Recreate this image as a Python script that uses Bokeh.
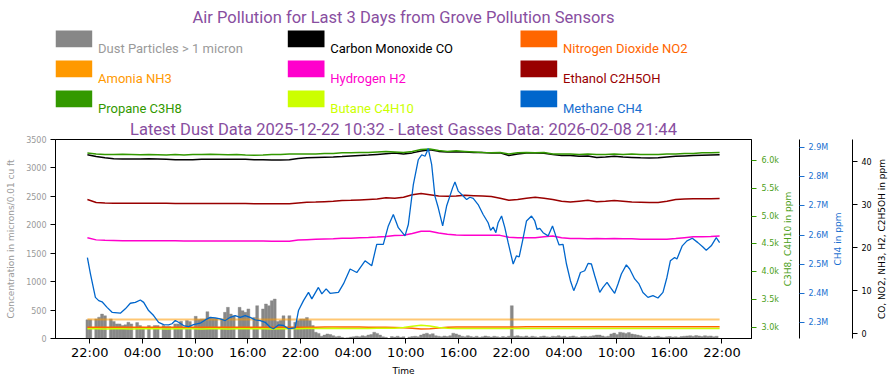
import math
import pandas as pd
from bokeh.plotting import figure
from bokeh.models import (Range1d, LinearAxis, FixedTicker, CustomJSTickFormatter,
                          DatetimeTickFormatter)
from bokeh.layouts import column, row
from bokeh.embed import file_html
from bokeh.resources import INLINE
from bokeh.core.properties import value

# ---------------- data ----------------
title_text = "Air Pollution for Last 3 Days from Grove Pollution Sensors"
subtitle_text = "Latest Dust Data 2025-12-22 10:32 - Latest Gasses Data: 2026-02-08 21:44"

legend_labels = ["Dust Particles > 1 micron", "Carbon Monoxide CO", "Nitrogen Dioxide NO2",
                 "Amonia NH3", "Hydrogen H2", "Ethanol C2H5OH",
                 "Propane C3H8", "Butane C4H10", "Methane CH4"]
legend_colors = ["#878787", "#000000", "#FF6600", "#FF9900", "#FF00CC",
                 "#990000", "#339900", "#CCFF00", "#0066CC"]
legend_text_colors = ["#9A9A9A", "#000000", "#FF6600", "#FF9900", "#FF00CC",
                      "#990000", "#339900", "#CCFF00", "#1A6FD0"]

axis_titles = {"dust": "Concentration in microns/0.01 cu ft",
               "hc": "C3H8, C4H10 in ppm",
               "ch4": "CH4 in ppm",
               "gas": "CO, NO2, NH3, H2, C2H5OH in ppm",
               "time": "Time"}

series_start = "2026-02-05 21:44"
x_tick_start = "2026-02-05 22:00"
x_tick_count = 13
x_view = ("2026-02-05 18:06", "2026-02-09 01:22")

dust_ticks = [0, 500, 1000, 1500, 2000, 2500, 3000, 3500]
hc_ticks = [3000, 3500, 4000, 4500, 5000, 5500, 6000]
ch4_ticks = [2300000, 2400000, 2500000, 2600000, 2700000, 2800000, 2900000]
gas_ticks = [0, 10, 20, 30, 40]

# dust, one value every 20 minutes (microns / 0.01 cu ft)
dust = [330, 330, 0, 345, 375, 430, 400, 0, 345, 300, 257, 257,
        227, 240, 285, 257, 0, 280, 227, 198, 0, 227, 0, 227,
        227, 0, 227, 210, 210, 0, 257, 257, 303, 0, 315, 300,
        0, 390, 335, 344, 344, 472, 370, 355, 355, 0, 344, 460,
        548, 430, 400, 0, 548, 490, 460, 520, 0, 370, 577, 0,
        520, 607, 577, 665, 694, 300, 315, 400, 0, 402, 0, 285,
        315, 344, 344, 370, 315, 227, 110, 90, 40, 60, 80, 70,
        50, 30, 40, 20, 10, 15, 25, 30, 40, 30, 50, 40,
        60, 70, 110, 90, 60, 30, 20, 0, 35, 25, 40, 20,
        30, 0, 25, 35, 40, 30, 60, 80, 93, 70, 85, 50,
        40, 30, 45, 35, 50, 93, 80, 60, 40, 30, 50, 35,
        25, 40, 20, 30, 45, 35, 25, 40, 30, 20, 35, 25,
        40, 577, 40, 50, 35, 30, 45, 25, 40, 30, 20, 35,
        45, 30, 25, 40, 35, 50, 30, 40, 25, 35, 45, 30,
        20, 35, 40, 30, 40, 50, 60, 60, 45, 30, 40, 80,
        95, 70, 110, 100, 90, 105, 80, 70, 60, 50, 30, 25,
        35, 20, 30, 40, 25, 20, 30, 35, 25, 30, 20, 35,
        40, 45, 50, 40, 52, 45, 35, 50, 40, 45, 30, 40]

# hourly gas readings (ppm)
co = [41.6, 41.2, 40.9, 40.7, 40.65, 40.65, 40.65, 40.7, 40.65, 40.55,
      40.45, 40.45, 40.45, 40.55, 40.55, 40.55, 40.55, 40.55, 40.55, 40.45,
      40.45, 40.4, 40.4, 40.45, 40.75, 40.9, 41.0, 41.05, 41.1, 41.2,
      41.35, 41.45, 41.55, 41.7, 41.85, 42.0, 41.8, 42.05, 42.5, 42.8,
      42.4, 42.25, 42.3, 42.25, 42.15, 42.15, 42.05, 42.05, 41.45, 41.8,
      42.05, 42.0, 41.95, 41.65, 41.45, 41.45, 41.25, 41.35, 41.0, 41.1,
      41.25, 41.1, 41.0, 40.9, 40.85, 40.9, 41.1, 41.25, 41.35, 41.45,
      41.5, 41.55, 41.6]
no2 = [1.45, 1.45, 1.44, 1.45, 1.45, 1.46, 1.45, 1.45, 1.44, 1.45,
       1.45, 1.45, 1.46, 1.45, 1.45, 1.44, 1.45, 1.45, 1.45, 1.45,
       1.46, 1.45, 1.45, 1.45, 1.47, 1.48, 1.48, 1.49, 1.5, 1.5,
       1.5, 1.5, 1.48, 1.46, 1.45, 1.42, 1.35, 1.2, 1.05, 1.1,
       1.3, 1.45, 1.5, 1.52, 1.52, 1.53, 1.53, 1.52, 1.5, 1.52,
       1.55, 1.55, 1.56, 1.56, 1.56, 1.57, 1.57, 1.56, 1.56, 1.56,
       1.57, 1.57, 1.56, 1.56, 1.55, 1.55, 1.56, 1.56, 1.57, 1.57,
       1.56, 1.56, 1.56]
nh3 = [3.3, 3.26, 3.25, 3.25, 3.24, 3.25, 3.25, 3.26, 3.25, 3.25,
       3.24, 3.25, 3.25, 3.25, 3.26, 3.25, 3.25, 3.24, 3.25, 3.25,
       3.25, 3.25, 3.26, 3.25, 3.25, 3.25, 3.24, 3.25, 3.25, 3.25,
       3.26, 3.25, 3.25, 3.25, 3.24, 3.25, 3.25, 3.26, 3.27, 3.26,
       3.25, 3.25, 3.25, 3.24, 3.25, 3.25, 3.25, 3.26, 3.25, 3.25,
       3.25, 3.24, 3.25, 3.25, 3.25, 3.25, 3.26, 3.25, 3.25, 3.24,
       3.25, 3.25, 3.25, 3.25, 3.26, 3.25, 3.25, 3.25, 3.24, 3.25,
       3.25, 3.25, 3.25]
h2 = [22.3, 21.8, 21.7, 21.65, 21.6, 21.6, 21.62, 21.62, 21.6, 21.6,
      21.58, 21.55, 21.55, 21.55, 21.55, 21.55, 21.55, 21.55, 21.55, 21.52,
      21.52, 21.5, 21.5, 21.5, 21.75, 21.85, 21.95, 22.0, 22.05, 22.15,
      22.2, 22.3, 22.35, 22.45, 22.6, 22.8, 22.9, 23.3, 23.8, 23.8,
      23.4, 23.1, 22.95, 22.9, 22.9, 22.85, 22.85, 22.85, 22.4, 22.3,
      22.3, 22.3, 22.5, 22.7, 22.3, 22.1, 22.1, 22.05, 22.1, 22.05,
      22.1, 22.05, 22.05, 21.95, 21.95, 21.92, 21.95, 22.1, 22.3, 22.5,
      22.55, 22.6, 22.7]
c2h5oh = [31.2, 30.5, 30.4, 30.35, 30.3, 30.3, 30.35, 30.35, 30.3, 30.3,
          30.25, 30.25, 30.25, 30.25, 30.28, 30.28, 30.28, 30.25, 30.25, 30.22,
          30.2, 30.2, 30.2, 30.2, 30.4, 30.55, 30.6, 30.7, 30.8, 30.95,
          31.0, 31.1, 31.2, 31.3, 31.6, 31.5, 31.7, 32.3, 32.6, 32.3,
          32.0, 31.95, 32.0, 32.2, 32.1, 32.0, 31.9, 31.5, 31.0, 31.2,
          31.5, 31.7, 31.5, 31.2, 30.8, 30.6, 30.8, 31.0, 30.7, 30.8,
          30.95, 30.8, 30.6, 30.55, 30.5, 30.5, 30.8, 31.2, 31.3, 31.35,
          31.4, 31.4, 31.45]
c3h8 = [6125, 6110, 6100, 6100, 6105, 6100, 6095, 6100, 6095, 6090,
        6100, 6090, 6100, 6100, 6105, 6100, 6095, 6100, 6090, 6085,
        6090, 6100, 6100, 6110, 6110, 6110, 6110, 6120, 6120, 6130,
        6130, 6135, 6135, 6145, 6155, 6145, 6135, 6155, 6190, 6200,
        6170, 6155, 6165, 6155, 6145, 6135, 6130, 6135, 6110, 6130,
        6135, 6130, 6135, 6110, 6110, 6110, 6100, 6110, 6100, 6100,
        6110, 6100, 6110, 6100, 6100, 6100, 6110, 6110, 6120, 6120,
        6130, 6130, 6135]
c4h10 = [2982, 2983, 2981, 2982, 2982, 2980, 2982, 2983, 2982, 2981,
         2982, 2982, 2983, 2981, 2982, 2982, 2980, 2982, 2982, 2983,
         2982, 2981, 2982, 2982, 2984, 2988, 2990, 2990, 2991, 2990,
         2990, 2989, 2990, 2991, 2992, 2995, 3005, 3030, 3045, 3035,
         3005, 2995, 2990, 2988, 2988, 2989, 2988, 2987, 2988, 2988,
         2989, 2988, 2988, 2987, 2988, 2988, 2989, 2988, 2988, 2987,
         2988, 2988, 2988, 2989, 2988, 2987, 2988, 2988, 2989, 2988,
         2988, 2988, 2988]

# methane, irregular samples: hours after series start, ppm
ch4_hours = [0.00, 0.34, 0.91, 1.29, 1.67, 2.24, 2.81, 3.75, 4.32, 4.89,
             5.46, 6.03, 6.41, 6.97, 7.54, 8.11, 8.68, 9.25, 9.63, 10.01,
             10.38, 10.95, 11.52, 12.09, 12.85, 13.42, 13.99, 14.56, 15.13, 15.70,
             16.27, 16.83, 17.40, 17.97, 18.54, 19.11, 19.68, 20.25, 20.82, 21.19,
             21.76, 22.33, 22.90, 23.66, 24.04, 24.61, 25.18, 25.56, 26.31, 26.70,
             27.19, 27.64, 28.59, 29.16, 29.92, 30.68, 31.62, 32.38, 32.95, 33.70,
             34.27, 34.84, 35.41, 36.17, 36.55, 37.12, 37.68, 38.07, 38.45, 38.82,
             39.21, 39.58, 39.96, 40.46, 40.91, 41.29, 41.59, 41.86, 42.23, 42.80,
             43.19, 43.56, 43.94, 44.50, 45.07, 45.64, 45.92, 46.21, 46.52, 46.78,
             47.17, 47.54, 47.92, 48.49, 48.87, 49.17, 49.56, 50.01, 50.58, 50.95,
             51.22, 51.52, 51.90, 52.47, 52.97, 53.35, 53.72, 54.17, 54.56, 55.01,
             55.39, 55.77, 56.15, 56.64, 57.02, 57.40, 57.78, 58.35, 58.72, 59.18,
             59.56, 60.05, 60.43, 60.81, 61.38, 61.76, 62.33, 62.82, 63.27, 63.84,
             64.41, 64.98, 65.55, 66.00, 66.39, 66.88, 67.14, 67.75, 68.28, 68.89,
             69.53, 70.10, 70.48, 71.05, 71.62, 72.00]
ch4_ppm = [2523000, 2468000, 2387000, 2376000, 2372000, 2353000, 2336000, 2333000, 2348000, 2367000,
           2370000, 2378000, 2370000, 2342000, 2325000, 2302000, 2294000, 2293000, 2297000, 2308000,
           2302000, 2291000, 2287000, 2294000, 2299000, 2310000, 2319000, 2317000, 2314000, 2308000,
           2319000, 2325000, 2319000, 2325000, 2319000, 2310000, 2308000, 2302000, 2285000, 2280000,
           2293000, 2291000, 2280000, 2283000, 2342000, 2376000, 2404000, 2382000, 2421000, 2399000,
           2416000, 2401000, 2404000, 2433000, 2484000, 2472000, 2512000, 2495000, 2568000, 2568000,
           2631000, 2670000, 2625000, 2597000, 2636000, 2772000, 2857000, 2874000, 2869000, 2895000,
           2840000, 2733000, 2693000, 2631000, 2699000, 2733000, 2761000, 2781000, 2750000, 2733000,
           2721000, 2729000, 2725000, 2704000, 2670000, 2642000, 2616000, 2627000, 2608000, 2642000,
           2665000, 2625000, 2574000, 2501000, 2529000, 2525000, 2580000, 2648000, 2665000, 2648000,
           2619000, 2623000, 2608000, 2597000, 2631000, 2597000, 2566000, 2568000, 2501000, 2444000,
           2410000, 2438000, 2472000, 2478000, 2503000, 2501000, 2461000, 2404000, 2421000, 2438000,
           2421000, 2401000, 2433000, 2467000, 2498000, 2484000, 2450000, 2433000, 2404000, 2387000,
           2393000, 2385000, 2404000, 2455000, 2512000, 2523000, 2518000, 2563000, 2580000, 2589000,
           2574000, 2559000, 2548000, 2563000, 2591000, 2574000]

# ---------------- derived time axes ----------------
t0 = pd.Timestamp(series_start)
dust_times = [t0 + pd.Timedelta(minutes=20 * i) for i in range(len(dust))]
hour_times = [t0 + pd.Timedelta(hours=i) for i in range(len(co))]
ch4_times = [t0 + pd.Timedelta(hours=h) for h in ch4_hours]
x_ticks = [int((pd.Timestamp(x_tick_start) + pd.Timedelta(hours=6 * i)).value // 10**6)
           for i in range(x_tick_count)]

FONT = "DejaVu Sans"
TITLE_COLOR = "#884EA0"
W, H = 896, 385
FRAME_L, FRAME_R, FRAME_T, FRAME_B = 55, 752, 138, 338
HEAD_H = 117
BODY_H = H - HEAD_H
TOP_B = FRAME_T - HEAD_H
BOT_B = H - FRAME_B

y_ranges = {"dust": (0, 3500), "hc": (2809.6, 6368.3),
            "ch4": (2246660, 2926160), "gas": (-1.158, 45.165)}

# ---------------- header (title + legend) ----------------
head = figure(width=W, height=HEAD_H, x_range=Range1d(FRAME_L, FRAME_R),
              y_range=Range1d(HEAD_H, 0), output_backend="svg", toolbar_location=None,
              min_border_left=FRAME_L, min_border_right=W - FRAME_R,
              min_border_top=0, min_border_bottom=0,
              x_axis_location=None, y_axis_location=None)
head.grid.visible = False
head.outline_line_color = None

head.text(x=[403], y=[16.7], text=[title_text], text_align="center", text_baseline="middle",
          text_font=value("Roboto"), text_font_size="16.5px", text_color=TITLE_COLOR)

col_left = [55, 287.3, 520]
row_top = [30, 60, 90]
box_w, box_h = 36.7, 16.7
bx, by, tx, ty = [], [], [], []
for k in range(len(legend_labels)):
    r, c = divmod(k, 3)
    bx.append(col_left[c] + box_w / 2)
    by.append(row_top[r] + box_h / 2)
    tx.append(col_left[c] + 42.5)
    ty.append(row_top[r] + 18.4)
head.rect(x=bx, y=by, width=box_w, height=box_h, fill_color=legend_colors, line_color=None)
head.text(x=tx, y=ty, text=legend_labels, text_color=legend_text_colors, text_align="left",
          text_baseline="alphabetic", text_font=value("Roboto"), text_font_size="13px")


def style_axis(ax, tick_color, label_color, title_color, font_size="8px"):
    ax.axis_line_color = "black"
    ax.major_tick_line_color = tick_color
    ax.major_tick_out = 5
    ax.major_tick_in = 0
    ax.minor_tick_line_color = None
    ax.major_label_text_font = FONT
    ax.major_label_text_font_size = font_size
    ax.major_label_text_color = label_color
    ax.major_label_standoff = 4
    ax.axis_label_text_font = FONT
    ax.axis_label_text_font_size = "9px"
    ax.axis_label_text_font_style = "normal"
    ax.axis_label_text_color = title_color


# ---------------- main chart ----------------
P_RIGHT = 29          # green axis ticks + labels
p = figure(width=FRAME_R + P_RIGHT, height=BODY_H, x_axis_type="datetime",
           x_range=Range1d(pd.Timestamp(x_view[0]), pd.Timestamp(x_view[1])),
           y_range=Range1d(*y_ranges["dust"]),
           output_backend="svg", toolbar_location=None,
           min_border_left=FRAME_L, min_border_right=P_RIGHT,
           min_border_top=TOP_B, min_border_bottom=BOT_B)
p.grid.visible = False
p.outline_line_color = "black"
p.outline_line_width = 1

p.title.text = subtitle_text
p.title.align = "center"
p.title.text_font = "Roboto"
p.title.text_font_size = "16.5px"
p.title.text_font_style = "normal"
p.title.text_color = TITLE_COLOR
p.title.standoff = 1

p.extra_y_ranges = {k: Range1d(*y_ranges[k]) for k in ("hc", "ch4", "gas")}

xa = p.xaxis[0]
xa.ticker = FixedTicker(ticks=x_ticks)
xa.formatter = DatetimeTickFormatter(hours="%H:%M", days="%H:%M", hourmin="%H:%M",
                                     minutes="%H:%M", months="%H:%M", years="%H:%M")
style_axis(xa, "black", "black", "black", font_size="13px")
xa.axis_label = axis_titles["time"]
xa.major_label_standoff = 1
xa.axis_label_standoff = 3

ya = p.yaxis[0]
ya.ticker = FixedTicker(ticks=dust_ticks)
style_axis(ya, "black", "#999999", "#999999")
ya.axis_label = axis_titles["dust"]
ya.axis_label_standoff = 7

ax_hc = LinearAxis(y_range_name="hc", ticker=FixedTicker(ticks=hc_ticks),
                   formatter=CustomJSTickFormatter(code="return (tick/1000).toFixed(1) + 'k';"))
style_axis(ax_hc, "#339900", "#4CA020", "#4CA020")
ax_hc.major_label_standoff = 5
p.add_layout(ax_hc, "right")

p.vbar(x=dust_times, top=dust, bottom=0, width=20 * 60 * 1000,
       fill_color="#888888", line_color="#888888", line_width=0.4)
p.line(hour_times, co, line_color="#000000", line_width=1.5, y_range_name="gas")
p.line(hour_times, no2, line_color="#FF6600", line_width=1.5, y_range_name="gas")
p.line(hour_times, nh3, line_color="#FF9900", line_width=2, line_alpha=0.55, y_range_name="gas")
p.line(hour_times, h2, line_color="#FF00CC", line_width=1.5, y_range_name="gas")
p.line(hour_times, c2h5oh, line_color="#990000", line_width=1.5, y_range_name="gas")
p.line(hour_times, c3h8, line_color="#339900", line_width=1.5, y_range_name="hc")
p.line(hour_times, c4h10, line_color="#CCFF00", line_width=1.5, y_range_name="hc")
p.line(ch4_times, ch4_ppm, line_color="#0066CC", line_width=1.3, y_range_name="ch4")


# ---------------- right-hand axis strips ----------------
# each strip: a blank frame holding the previous axis' title (rotated, bottom-to-top)
# and, optionally, the next axis on its right edge
def strip(left, frame_right, right_border, title_key, title_x, title_color,
          axis_key=None, ticks=None, code=None, tick_color=None):
    has_axis = axis_key is not None
    yr = y_ranges[axis_key] if has_axis else (0, 1)
    f = figure(width=frame_right - left + right_border, height=BODY_H,
               x_range=Range1d(left, frame_right), y_range=Range1d(*yr),
               output_backend="svg", toolbar_location=None,
               min_border_left=0, min_border_right=right_border,
               min_border_top=TOP_B, min_border_bottom=BOT_B,
               x_axis_location=None, y_axis_location="right" if has_axis else None)
    f.grid.visible = False
    f.outline_line_color = None
    if has_axis:
        ax = f.yaxis[0]
        ax.ticker = FixedTicker(ticks=ticks)
        if code:
            ax.formatter = CustomJSTickFormatter(code=code)
        style_axis(ax, tick_color, tick_color, tick_color)
        ax.major_label_standoff = 4
    f.text(x=[title_x], y=[(yr[0] + yr[1]) / 2], text=[axis_titles[title_key]],
           angle=math.pi / 2, text_align="center", text_baseline="middle",
           text_font=value(FONT), text_font_size="9px", text_color=title_color)
    return f


s1 = strip(FRAME_R + P_RIGHT, 800, 31, "hc", 788, "#4CA020",
           "ch4", ch4_ticks, "return (tick/1e6).toFixed(1) + 'M';", "#1A6FD0")
s2 = strip(831, 852, 22, "ch4", 837, "#1A6FD0", "gas", gas_ticks, None, "black")
s3 = strip(874, W, 0, "gas", 881, "black")

layout = column(head, row(p, s1, s2, s3))
open("out.html", "w").write(file_html(layout, INLINE))
